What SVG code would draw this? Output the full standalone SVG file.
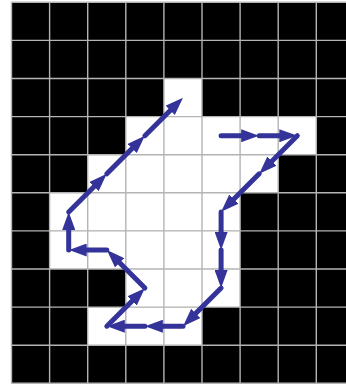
<svg xmlns="http://www.w3.org/2000/svg" width="346" height="385" viewBox="0 0 346 385">
  <style>
    .free { fill: #ffffff; }
    .grid line { stroke: #b4b4b4; stroke-width: 1.4; }
    .step { stroke: #333399; stroke-width: 5; stroke-linecap: round; fill: none; marker-end: url(#head); }
  </style>
  <defs>
    <marker id="head" markerUnits="userSpaceOnUse" markerWidth="18" markerHeight="13" refX="8" refY="6.5" orient="auto">
      <path d="M0,0 L18,6.5 L0,13 z" fill="#333399"/>
    </marker>
  </defs>
  <rect x="0" y="0" width="346" height="385" fill="#ffffff"/>
  <g id="blocked">
    <rect x="11.5" y="2.3" width="342.9" height="381" fill="#000000"/>
  </g>
  <g id="free-cells">
    <rect class="free" x="163.9" y="78.5" width="38.1" height="38.1"/>
    <rect class="free" x="125.8" y="116.6" width="190.5" height="38.1"/>
    <rect class="free" x="87.7" y="154.7" width="190.5" height="38.1"/>
    <rect class="free" x="49.6" y="192.8" width="190.5" height="38.1"/>
    <rect class="free" x="49.6" y="230.9" width="190.5" height="38.1"/>
    <rect class="free" x="125.8" y="269.0" width="114.3" height="38.1"/>
    <rect class="free" x="87.7" y="307.1" width="114.3" height="38.1"/>
  </g>
  <g id="grid" class="grid">
    <line x1="11.5" y1="2.3" x2="11.5" y2="383.3"/>
    <line x1="49.6" y1="2.3" x2="49.6" y2="383.3"/>
    <line x1="87.7" y1="2.3" x2="87.7" y2="383.3"/>
    <line x1="125.8" y1="2.3" x2="125.8" y2="383.3"/>
    <line x1="163.9" y1="2.3" x2="163.9" y2="383.3"/>
    <line x1="202.0" y1="2.3" x2="202.0" y2="383.3"/>
    <line x1="240.1" y1="2.3" x2="240.1" y2="383.3"/>
    <line x1="278.2" y1="2.3" x2="278.2" y2="383.3"/>
    <line x1="316.3" y1="2.3" x2="316.3" y2="383.3"/>
    <line x1="11.5" y1="2.3" x2="346" y2="2.3"/>
    <line x1="11.5" y1="40.4" x2="346" y2="40.4"/>
    <line x1="11.5" y1="78.5" x2="346" y2="78.5"/>
    <line x1="11.5" y1="116.6" x2="346" y2="116.6"/>
    <line x1="11.5" y1="154.7" x2="346" y2="154.7"/>
    <line x1="11.5" y1="192.8" x2="346" y2="192.8"/>
    <line x1="11.5" y1="230.9" x2="346" y2="230.9"/>
    <line x1="11.5" y1="269.0" x2="346" y2="269.0"/>
    <line x1="11.5" y1="307.1" x2="346" y2="307.1"/>
    <line x1="11.5" y1="345.2" x2="346" y2="345.2"/>
    <line x1="11.5" y1="383.3" x2="346" y2="383.3"/>
  </g>
  <g id="connectors">
    <line class="step" x1="221.1" y1="135.7" x2="249.2" y2="135.7"/>
    <line class="step" x1="259.2" y1="135.7" x2="287.3" y2="135.7"/>
    <line class="step" x1="297.3" y1="135.7" x2="266.3" y2="166.7"/>
    <line class="step" x1="259.2" y1="173.8" x2="228.2" y2="204.8"/>
    <line class="step" x1="221.1" y1="211.9" x2="221.1" y2="240.0"/>
    <line class="step" x1="221.1" y1="250.0" x2="221.1" y2="278.1"/>
    <line class="step" x1="221.1" y1="288.1" x2="190.1" y2="319.1"/>
    <line class="step" x1="183.0" y1="326.2" x2="154.9" y2="326.2"/>
    <line class="step" x1="144.9" y1="326.2" x2="116.8" y2="326.2"/>
    <line class="step" x1="106.8" y1="326.2" x2="137.8" y2="295.2"/>
    <line class="step" x1="144.9" y1="288.1" x2="113.9" y2="257.1"/>
    <line class="step" x1="106.8" y1="250.0" x2="78.7" y2="250.0"/>
    <line class="step" x1="68.7" y1="250.0" x2="68.7" y2="221.9"/>
    <line class="step" x1="68.7" y1="211.9" x2="99.7" y2="180.9"/>
    <line class="step" x1="106.8" y1="173.8" x2="137.8" y2="142.8"/>
    <line class="step" x1="144.9" y1="135.7" x2="175.9" y2="104.7"/>
  </g>
</svg>
